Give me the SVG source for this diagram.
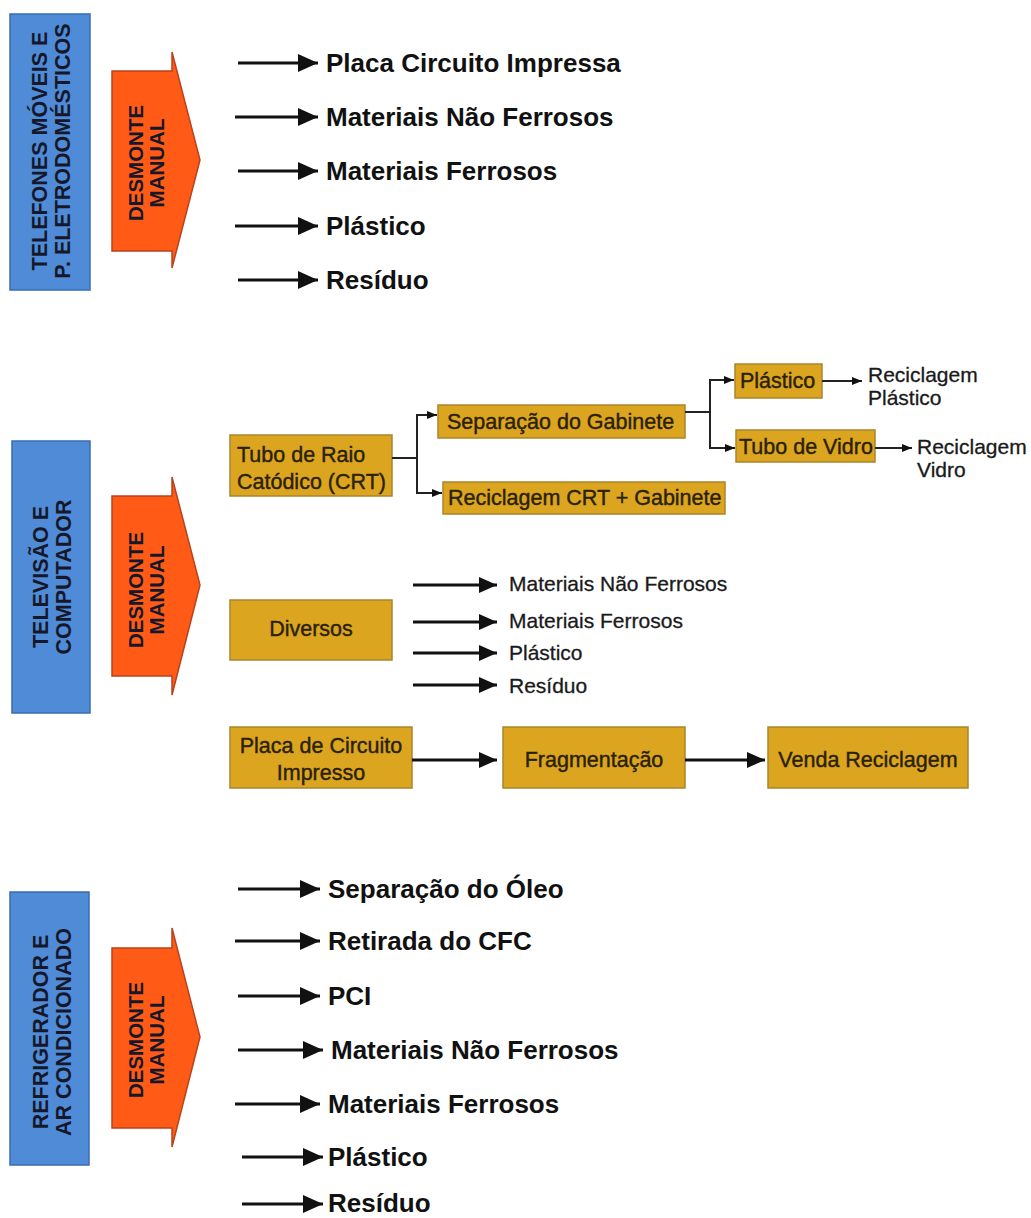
<svg xmlns="http://www.w3.org/2000/svg" width="1031" height="1218" viewBox="0 0 1031 1218">
<style>
.cat{fill:#4f8bd6;stroke:#3a6cb0;stroke-width:1.5}
.dm{fill:#ff5b17;stroke:#b8421c;stroke-width:1.5}
.box{fill:#dca51f;stroke:#a9852e;stroke-width:1.5}
.vt{font-family:"Liberation Sans",Arial,sans-serif;font-weight:bold;font-size:21.5px;fill:#15182a;text-anchor:middle}
.vd{font-family:"Liberation Sans",Arial,sans-serif;font-weight:bold;font-size:20.5px;fill:#15182a;text-anchor:middle}
.bt{font-family:"Liberation Sans",Arial,sans-serif;font-weight:bold;font-size:26px;fill:#111}
.st{font-family:"Liberation Sans",Arial,sans-serif;font-size:21px;fill:#1a1a1a;stroke:#1a1a1a;stroke-width:0.3}
.bx{font-family:"Liberation Sans",Arial,sans-serif;font-size:21.5px;fill:#2a2108;stroke:#2a2108;stroke-width:0.4}
.ln{stroke:#111;stroke-width:3;fill:none}
.ln2{stroke:#222;stroke-width:2;fill:none}
</style>
<defs>
<marker id="big" markerUnits="userSpaceOnUse" viewBox="0 0 20 18" refX="20" refY="9" markerWidth="20" markerHeight="18" orient="auto"><path d="M0,0 L20,9 L0,18 z" fill="#111"/></marker>
<marker id="med" markerUnits="userSpaceOnUse" viewBox="0 0 18 16" refX="18" refY="8" markerWidth="18" markerHeight="16" orient="auto"><path d="M0,0 L18,8 L0,16 z" fill="#111"/></marker>
<marker id="sm" markerUnits="userSpaceOnUse" viewBox="0 0 10 8" refX="10" refY="4" markerWidth="10" markerHeight="8" orient="auto"><path d="M0,0 L10,4 L0,8 z" fill="#111"/></marker>
</defs>

<!-- Panel 1 -->
<g id="cat1">
<rect class="cat" x="10" y="14" width="80" height="276"/>
<g transform="translate(47,151) rotate(-90)"><text class="vt" x="0" y="0">TELEFONES MÓVEIS E</text><text class="vt" x="0" y="23">P. ELETRODOMÉSTICOS</text></g>
</g>
<g id="dm1">
<polygon class="dm" points="112,71 172,71 172,52 200,160 172,268 172,251 112,251"/>
<g transform="translate(143,163) rotate(-90)"><text class="vd" x="0" y="0">DESMONTE</text><text class="vd" x="0" y="21">MANUAL</text></g>
</g>
<g id="out1">
<text class="bt" x="326" y="72">Placa Circuito Impressa</text>
<text class="bt" x="326" y="126">Materiais Não Ferrosos</text>
<text class="bt" x="326" y="180">Materiais Ferrosos</text>
<text class="bt" x="326" y="235">Plástico</text>
<text class="bt" x="326" y="289">Resíduo</text>
</g>

<!-- Panel 2 -->
<g id="cat2">
<rect class="cat" x="12" y="441" width="78" height="272"/>
<g transform="translate(48,577) rotate(-90)"><text class="vt" x="0" y="0">TELEVISÃO E</text><text class="vt" x="0" y="23">COMPUTADOR</text></g>
</g>
<g id="dm2">
<polygon class="dm" points="112,496 172,496 172,477 200,585 172,695 172,676 112,676"/>
<g transform="translate(143,590) rotate(-90)"><text class="vd" x="0" y="0">DESMONTE</text><text class="vd" x="0" y="21">MANUAL</text></g>
</g>
<g id="crt">
<rect class="box" x="230" y="435" width="162" height="61"/>
<text class="bx" x="237" y="462">Tubo de Raio</text>
<text class="bx" x="237" y="489">Catódico (CRT)</text>
</g>
<g id="sepgab">
<rect class="box" x="438" y="405" width="247" height="33"/>
<text class="bx" x="447" y="429">Separação do Gabinete</text>
</g>
<g id="recgab">
<rect class="box" x="443" y="482" width="282" height="32"/>
<text class="bx" x="448" y="505">Reciclagem CRT + Gabinete</text>
</g>
<g id="plast">
<rect class="box" x="735" y="364" width="87" height="34"/>
<text class="bx" x="740" y="388">Plástico</text>
</g>
<g id="vidro">
<rect class="box" x="736" y="430" width="139" height="32"/>
<text class="bx" x="739" y="454">Tubo de Vidro</text>
</g>
<g id="recplast">
<text class="st" x="868" y="382">Reciclagem</text>
<text class="st" x="868" y="405">Plástico</text>
</g>
<g id="recvidro">
<text class="st" x="917" y="454">Reciclagem</text>
<text class="st" x="917" y="477">Vidro</text>
</g>
<g id="div">
<rect class="box" x="230" y="600" width="162" height="60"/>
<text class="bx" x="311" y="636" text-anchor="middle">Diversos</text>
</g>
<g id="divout">
<text class="st" x="509" y="591">Materiais Não Ferrosos</text>
<text class="st" x="509" y="628">Materiais Ferrosos</text>
<text class="st" x="509" y="660">Plástico</text>
<text class="st" x="509" y="693">Resíduo</text>
</g>
<g id="pci">
<rect class="box" x="230" y="727" width="182" height="61"/>
<text class="bx" x="321" y="753" text-anchor="middle">Placa de Circuito</text>
<text class="bx" x="321" y="780" text-anchor="middle">Impresso</text>
</g>
<g id="frag">
<rect class="box" x="503" y="727" width="182" height="61"/>
<text class="bx" x="594" y="767" text-anchor="middle">Fragmentação</text>
</g>
<g id="venda">
<rect class="box" x="768" y="727" width="200" height="61"/>
<text class="bx" x="868" y="767" text-anchor="middle">Venda Reciclagem</text>
</g>

<!-- Panel 3 -->
<g id="cat3">
<rect class="cat" x="10" y="892" width="79" height="273"/>
<g transform="translate(48,1032) rotate(-90)"><text class="vt" x="0" y="0">REFRIGERADOR E</text><text class="vt" x="0" y="23">AR CONDICIONADO</text></g>
</g>
<g id="dm3">
<polygon class="dm" points="112,948 172,948 172,928 200,1037 172,1147 172,1128 112,1128"/>
<g transform="translate(143,1040) rotate(-90)"><text class="vd" x="0" y="0">DESMONTE</text><text class="vd" x="0" y="21">MANUAL</text></g>
</g>
<g id="out3">
<text class="bt" x="328" y="898">Separação do Óleo</text>
<text class="bt" x="328" y="950">Retirada do CFC</text>
<text class="bt" x="328" y="1005">PCI</text>
<text class="bt" x="331" y="1059">Materiais Não Ferrosos</text>
<text class="bt" x="328" y="1113">Materiais Ferrosos</text>
<text class="bt" x="328" y="1166">Plástico</text>
<text class="bt" x="328" y="1212">Resíduo</text>
</g>

<g id="connectors">
<line class="ln" x1="238" y1="63" x2="318" y2="63" marker-end="url(#big)"/>
<line class="ln" x1="235" y1="117" x2="318" y2="117" marker-end="url(#big)"/>
<line class="ln" x1="238" y1="171" x2="318" y2="171" marker-end="url(#big)"/>
<line class="ln" x1="235" y1="226" x2="318" y2="226" marker-end="url(#big)"/>
<line class="ln" x1="238" y1="280" x2="318" y2="280" marker-end="url(#big)"/>

<path class="ln2" d="M392,458 H417 M417,415 V493"/>
<line class="ln2" x1="416" y1="415" x2="437" y2="415" marker-end="url(#sm)"/>
<line class="ln2" x1="416" y1="493" x2="442" y2="493" marker-end="url(#sm)"/>
<path class="ln2" d="M685,412 H710 M710,380 V448"/>
<line class="ln2" x1="709" y1="380" x2="734" y2="380" marker-end="url(#sm)"/>
<line class="ln2" x1="709" y1="448" x2="735" y2="448" marker-end="url(#sm)"/>
<line class="ln2" x1="822" y1="381" x2="862" y2="381" marker-end="url(#sm)"/>
<line class="ln2" x1="875" y1="448" x2="912" y2="448" marker-end="url(#sm)"/>

<line class="ln" x1="413" y1="585" x2="497" y2="585" marker-end="url(#med)"/>
<line class="ln" x1="413" y1="622" x2="497" y2="622" marker-end="url(#med)"/>
<line class="ln" x1="413" y1="653" x2="497" y2="653" marker-end="url(#med)"/>
<line class="ln" x1="413" y1="685" x2="497" y2="685" marker-end="url(#med)"/>
<line class="ln" x1="412" y1="760" x2="497" y2="760" marker-end="url(#med)"/>
<line class="ln" x1="685" y1="760" x2="765" y2="760" marker-end="url(#med)"/>

<line class="ln" x1="238" y1="889" x2="320" y2="889" marker-end="url(#big)"/>
<line class="ln" x1="235" y1="941" x2="320" y2="941" marker-end="url(#big)"/>
<line class="ln" x1="238" y1="996" x2="320" y2="996" marker-end="url(#big)"/>
<line class="ln" x1="238" y1="1050" x2="323" y2="1050" marker-end="url(#big)"/>
<line class="ln" x1="235" y1="1104" x2="320" y2="1104" marker-end="url(#big)"/>
<line class="ln" x1="242" y1="1157" x2="323" y2="1157" marker-end="url(#big)"/>
<line class="ln" x1="242" y1="1204" x2="323" y2="1204" marker-end="url(#big)"/>
</g>
</svg>
